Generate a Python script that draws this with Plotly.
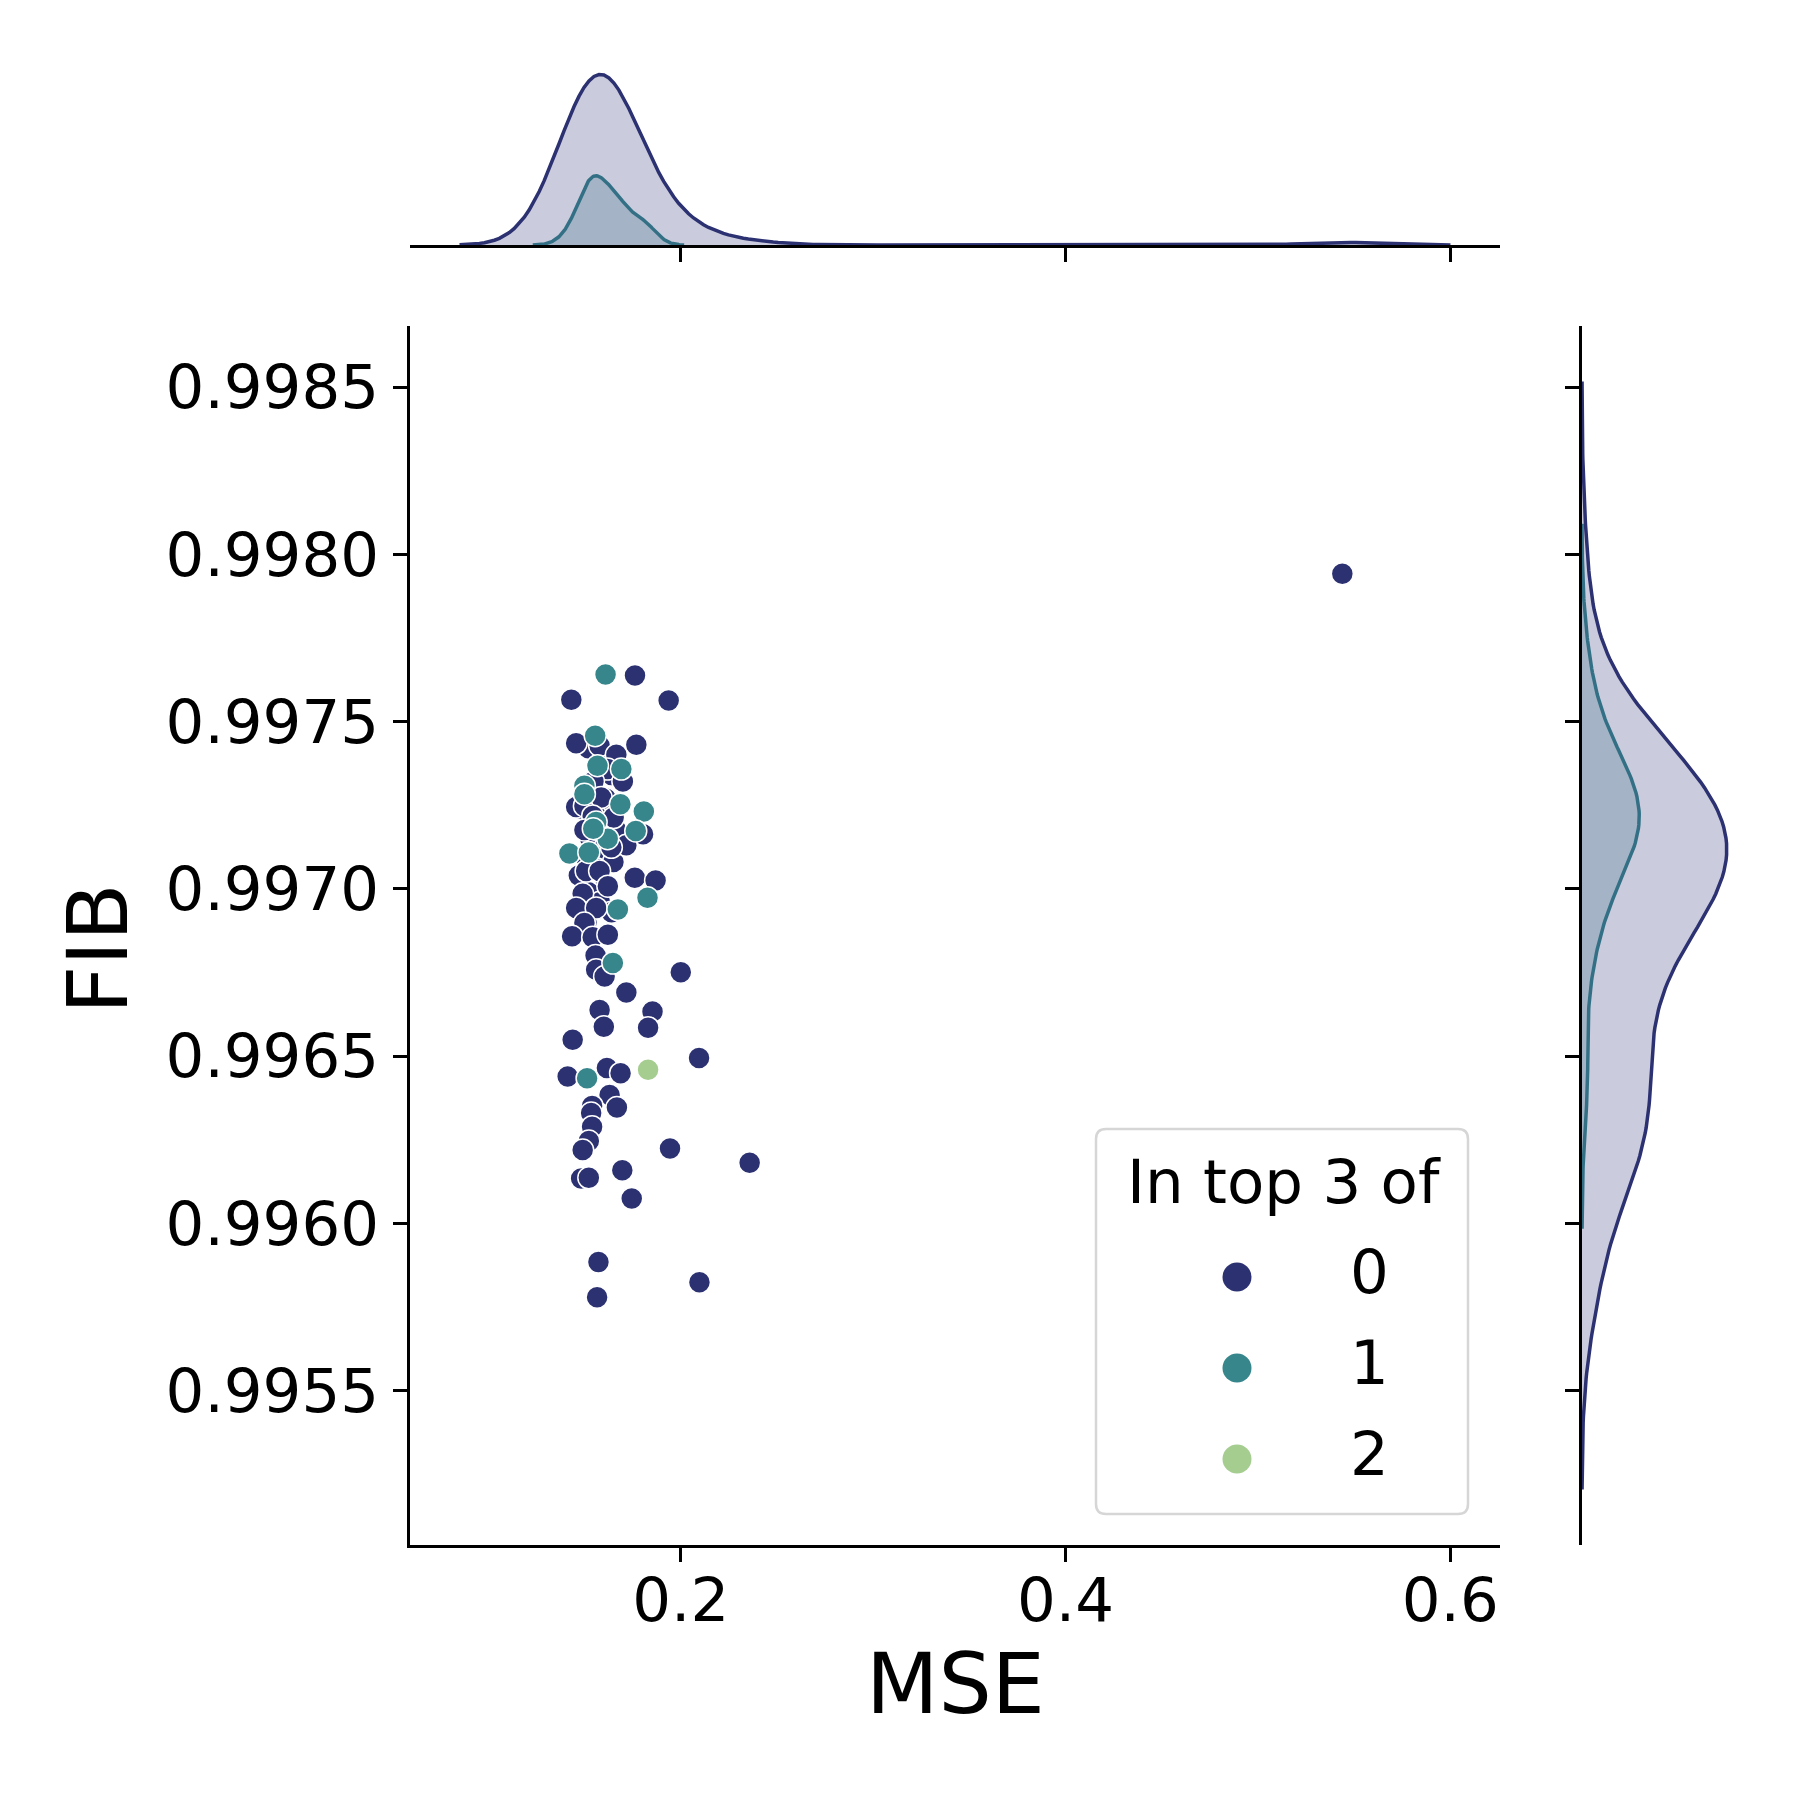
import numpy as np
import plotly.graph_objects as go

# values: MSE (x) and FIB (y), split by "In top 3 of" group.
# the first rows of groups 0 and 1 are points hidden inside the dense cluster
# (their count and spread are estimated from the marginal densities)
mse_0 = [0.1520, 0.1590, 0.1640, 0.1530, 0.1610, 0.1480, 0.1575, 0.1660, 0.1530, 0.1600,
         0.1500, 0.1650, 0.1560, 0.1470, 0.1610, 0.1520, 0.1580, 0.1640, 0.1510,
         0.1762, 0.1431, 0.1937, 0.1456, 0.1578, 0.1769, 0.1665, 0.1619, 0.1546, 0.1699,
         0.1456, 0.1499, 0.1586, 0.1651, 0.1542, 0.1499, 0.1560, 0.1804, 0.1717, 0.1639,
         0.1508, 0.1578, 0.1621, 0.1761, 0.1869, 0.1490, 0.1456, 0.1560, 0.1499, 0.1435,
         0.1542, 0.1621, 0.1557, 0.1560, 0.1604, 0.2000, 0.1717, 0.1578, 0.1600, 0.1853,
         0.1830, 0.1438, 0.2095, 0.1412, 0.1616, 0.1687, 0.1630, 0.1539, 0.1534, 0.1668,
         0.1539, 0.1522, 0.1490, 0.1944, 0.1482, 0.1522, 0.1696, 0.1745, 0.2358, 0.1572,
         0.1565, 0.2097, 0.5439]
fib_0 = [0.997420, 0.997380, 0.997340, 0.997300, 0.997270, 0.997240, 0.997210, 0.997180, 0.997150, 0.997120,
         0.997100, 0.997080, 0.997060, 0.997040, 0.997010, 0.996990, 0.996960, 0.996930, 0.996900,
         0.997638, 0.997565, 0.997563, 0.997435, 0.997428, 0.997431, 0.997401, 0.997358, 0.997321, 0.997321,
         0.997245, 0.997248, 0.997273, 0.997213, 0.997218, 0.997176, 0.997178, 0.997163, 0.997130, 0.997124,
         0.997053, 0.997053, 0.997008, 0.997033, 0.997025, 0.996985, 0.996943, 0.996943, 0.996898, 0.996858,
         0.996855, 0.996863, 0.996801, 0.996758, 0.996738, 0.996751, 0.996690, 0.996638, 0.996588, 0.996633,
         0.996585, 0.996549, 0.996494, 0.996439, 0.996464, 0.996449, 0.996384, 0.996351, 0.996330, 0.996346,
         0.996289, 0.996246, 0.996219, 0.996224, 0.996134, 0.996136, 0.996159, 0.996074, 0.996181, 0.995884,
         0.995779, 0.995824, 0.997942]
mse_1 = [0.1560, 0.1620, 0.1545,
         0.1609, 0.1555, 0.1567, 0.1691, 0.1499, 0.1499, 0.1686, 0.1808, 0.1766, 0.1421,
         0.1522, 0.1827, 0.1673, 0.1647, 0.1513]
fib_1 = [0.997200, 0.997150, 0.997180,
         0.997641, 0.997458, 0.997368, 0.997358, 0.997308, 0.997283, 0.997253, 0.997231, 0.997173, 0.997106,
         0.997109, 0.996973, 0.996938, 0.996778, 0.996434]
mse_2 = [0.1830]
fib_2 = [0.996459]

groups = ["0", "1", "2"]
colors = ["#2c3172", "#36868c", "#a5cd90"]
fills = ["rgba(44,49,114,0.25)", "rgba(54,134,140,0.25)", "rgba(165,205,144,0.25)"]

data = [(mse_0, fib_0), (mse_1, fib_1), (mse_2, fib_2)]
n_total = sum(len(m) for m, _ in data)

FONT = "DejaVu Sans"
W = H = 1800


def kde(vals, frac, cut=3, gridsize=200):
    # scott bandwidth, like seaborn's kdeplot
    vals = np.asarray(vals, dtype=float)
    bw = vals.std(ddof=1) * len(vals) ** (-1 / 5)
    grid = np.linspace(vals.min() - cut * bw, vals.max() + cut * bw, gridsize)
    dens = np.exp(-0.5 * ((grid[:, None] - vals[None, :]) / bw) ** 2).sum(axis=1)
    dens /= len(vals) * bw * np.sqrt(2 * np.pi)
    return grid, dens * frac


kx, ky = {}, {}
for i, (m, f) in enumerate(data):
    if len(m) < 2:
        continue  # single point: no density
    kx[i] = kde(m, len(m) / n_total)
    ky[i] = kde(f, len(f) / n_total)


def pad(lo, hi, p=0.05):
    d = hi - lo
    return [lo - p * d, hi + p * d]


all_x = np.concatenate([g for g, _ in kx.values()] + [np.asarray(m) for m, _ in data])
all_y = np.concatenate([g for g, _ in ky.values()] + [np.asarray(f) for _, f in data])
x_range = pad(all_x.min(), all_x.max())
y_range = pad(all_y.min(), all_y.max())
dx_max = max(d.max() for _, d in kx.values()) * 1.05
dy_max = max(d.max() for _, d in ky.values()) * 1.05

fig = go.Figure()

# marginal densities; group 1 first so group 0 sits on top
for i in [1, 0]:
    g, d = kx[i]
    fig.add_trace(go.Scatter(x=g, y=d, mode="lines", fill="tozeroy", fillcolor=fills[i],
                             line=dict(color=colors[i], width=3.5), xaxis="x2", yaxis="y2",
                             showlegend=False, hoverinfo="skip"))
    g, d = ky[i]
    fig.add_trace(go.Scatter(x=d, y=g, mode="lines", fill="tozerox", fillcolor=fills[i],
                             line=dict(color=colors[i], width=3.5), xaxis="x3", yaxis="y3",
                             showlegend=False, hoverinfo="skip"))

for i, (m, f) in enumerate(data):
    fig.add_trace(go.Scatter(x=m, y=f, mode="markers", name=groups[i], showlegend=False,
                             marker=dict(color=colors[i], size=22,
                                         line=dict(color="white", width=1.5))))


def px(x):
    return x / W


def py(y):
    return 1 - y / H


axis = dict(showline=True, linecolor="black", linewidth=2.5, ticks="outside", ticklen=14,
            tickwidth=2.5, tickcolor="black", showgrid=False, zeroline=False, automargin=False,
            tickfont=dict(family=FONT, size=61, color="black"))

fig.update_layout(
    template="none",
    width=W, height=H, margin=dict(l=0, r=0, t=0, b=0),
    paper_bgcolor="white", plot_bgcolor="white", showlegend=False,
    font=dict(family=FONT, color="black"),
    xaxis=dict(axis, domain=[px(410), px(1500)], anchor="y", range=x_range,
               dtick=0.2, tick0=0, tickformat=".1f", ticklabelstandoff=-14),
    yaxis=dict(axis, domain=[py(1545), py(326)], anchor="x", range=y_range,
               dtick=0.0005, tick0=0, tickformat=".4f", ticklabelstandoff=2),
    xaxis2=dict(axis, domain=[px(410), px(1500)], anchor="y2", matches="x",
                dtick=0.2, tick0=0, showticklabels=False),
    yaxis2=dict(domain=[py(245), py(66)], anchor="x2", range=[0, dx_max], visible=False,
                automargin=False),
    xaxis3=dict(domain=[px(1582), px(1734)], anchor="y3", range=[0, dy_max], visible=False,
                automargin=False),
    yaxis3=dict(axis, domain=[py(1545), py(326)], anchor="x3", matches="y",
                dtick=0.0005, tick0=0, showticklabels=False),
)

# axis titles
fig.add_annotation(text="MSE", x=px(955), y=py(1684), xref="paper", yref="paper",
                   showarrow=False, xanchor="center", yanchor="middle",
                   font=dict(family=FONT, size=84, color="black"))
fig.add_annotation(text="FIB", x=px(98), y=py(949), xref="paper", yref="paper",
                   showarrow=False, xanchor="center", yanchor="middle", textangle=-90,
                   font=dict(family=FONT, size=84, color="black"))

# legend box drawn by hand (matplotlib style: rounded frame, big dots)
lx0, ly0, lx1, ly1, r = px(1096), py(1129), px(1468), py(1514), 10 / W
path = (f"M {lx0 + r},{ly0} L {lx1 - r},{ly0} Q {lx1},{ly0} {lx1},{ly0 - r} "
        f"L {lx1},{ly1 + r} Q {lx1},{ly1} {lx1 - r},{ly1} L {lx0 + r},{ly1} "
        f"Q {lx0},{ly1} {lx0},{ly1 + r} L {lx0},{ly0 - r} Q {lx0},{ly0} {lx0 + r},{ly0} Z")
fig.add_shape(type="path", path=path, xref="paper", yref="paper",
              line=dict(color="#d6d6d6", width=2.5), fillcolor="rgba(255,255,255,0.8)")
fig.add_annotation(text="In top 3 of", x=px(1284), y=py(1181), xref="paper", yref="paper",
                   showarrow=False, xanchor="center", yanchor="middle",
                   font=dict(family=FONT, size=61, color="black"))
for i, lab in enumerate(groups):
    cy = 1277 + 91 * i
    rad = 14.5
    fig.add_shape(type="circle", xref="paper", yref="paper",
                  x0=px(1237 - rad), x1=px(1237 + rad), y0=py(cy + rad), y1=py(cy - rad),
                  fillcolor=colors[i], line=dict(width=0))
    fig.add_annotation(text=lab, x=px(1369), y=py(cy - 6), xref="paper", yref="paper",
                       showarrow=False, xanchor="center", yanchor="middle",
                       font=dict(family=FONT, size=61, color="black"))

# page has a default 8px body margin; drop it so the figure sits at the corner
fig.write_html("out.html", config={"displayModeBar": False},
               post_script="document.body.style.margin='0px';")
